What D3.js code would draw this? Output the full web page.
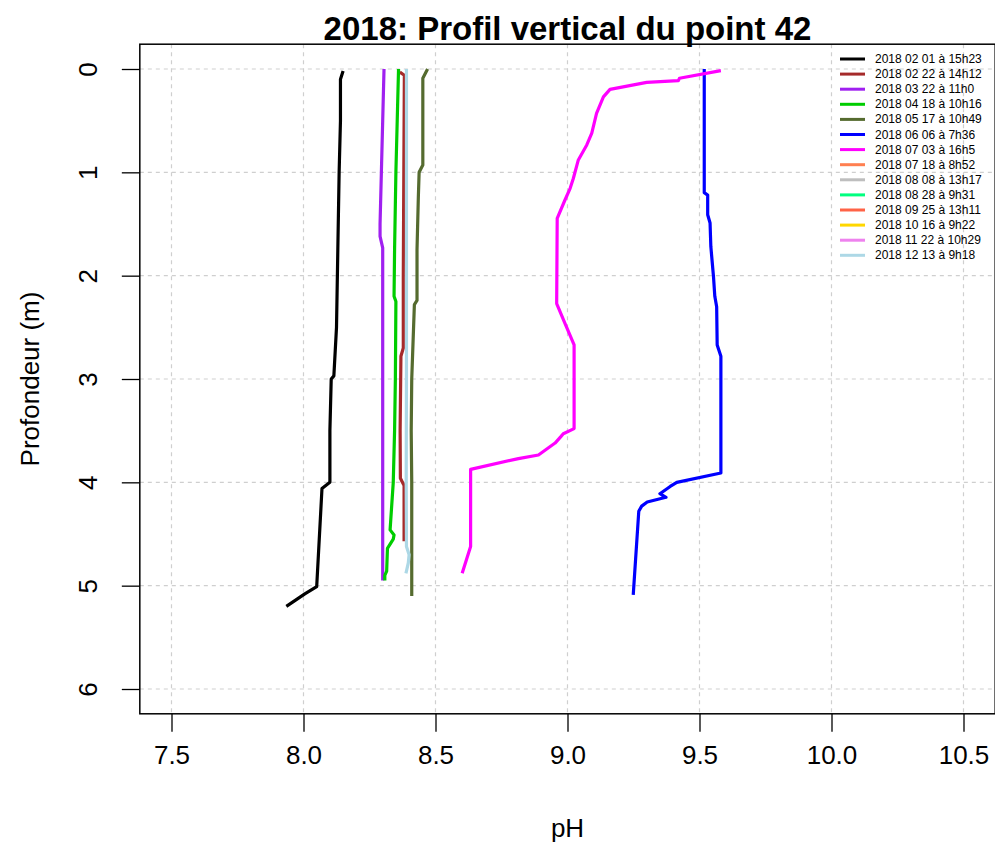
<!DOCTYPE html>
<html><head><meta charset="utf-8">
<script src="https://cdn.jsdelivr.net/npm/d3@7"></script>
<style>body{margin:0;background:#fff}svg{display:block;font-family:"Liberation Sans",Arial,sans-serif}</style>
</head><body><svg id="c" width="995" height="844"></svg>
<script>
const seriesNames = ["2018 02 01 à 15h23","2018 02 22 à 14h12","2018 03 22 à 11h0","2018 04 18 à 10h16","2018 05 17 à 10h49","2018 06 06 à 7h36","2018 07 03 à 16h5","2018 07 18 à 8h52","2018 08 08 à 13h17","2018 08 28 à 9h31","2018 09 25 à 13h11","2018 10 16 à 9h22","2018 11 22 à 10h29","2018 12 13 à 9h18"];
const seriesColors = ["#000000","#A52A2A","#A020F0","#00CD00","#556B2F","#0000FF","#FF00FF","#FF7F50","#BEBEBE","#00FF7F","#FF6347","#FFD700","#EE82EE","#ADD8E6"];
// [pH, depth]
const s0201 = [[8.15,0.02],[8.14,0.1],[8.14,0.5],[8.135,1.0],[8.13,1.75],[8.125,2.5],[8.115,2.97],[8.105,3.0],[8.10,3.5],[8.10,4.0],[8.07,4.06],[8.05,5.01],[8.005,5.08],[7.935,5.2]];
const s0222 = [[8.365,0.03],[8.382,0.06],[8.38,1.0],[8.378,2.0],[8.378,2.7],[8.369,2.78],[8.366,3.5],[8.367,3.96],[8.381,4.03],[8.381,4.57]];
const s0322 = [[8.305,0],[8.30,0.5],[8.295,1.0],[8.29,1.5],[8.29,1.62],[8.30,1.73],[8.30,2.5],[8.30,3.5],[8.30,4.5],[8.30,4.95]];
const s0418 = [[8.36,0],[8.355,0.5],[8.35,1.0],[8.345,1.75],[8.343,2.2],[8.35,2.25],[8.348,3.0],[8.345,3.5],[8.34,4.0],[8.328,4.46],[8.343,4.51],[8.34,4.55],[8.318,4.64],[8.315,4.86],[8.308,4.9],[8.308,4.95]];
const s0517 = [[8.47,0],[8.452,0.09],[8.452,0.93],[8.438,1.0],[8.435,1.24],[8.43,1.75],[8.43,2.24],[8.42,2.28],[8.41,3.0],[8.408,3.5],[8.41,4.0],[8.41,5.1]];
const s0606 = [[9.518,0],[9.518,1.197],[9.531,1.22],[9.531,1.41],[9.54,1.49],[9.543,1.72],[9.553,2.01],[9.558,2.2],[9.565,2.3],[9.567,2.67],[9.581,2.78],[9.581,3.91],[9.414,4.0],[9.389,4.04],[9.35,4.11],[9.373,4.145],[9.302,4.19],[9.281,4.23],[9.27,4.28],[9.249,5.09]];
const s0703 = [[9.581,0.016],[9.424,0.09],[9.42,0.113],[9.30,0.13],[9.161,0.197],[9.136,0.27],[9.11,0.43],[9.092,0.62],[9.073,0.735],[9.041,0.88],[9.022,1.06],[9.01,1.155],[8.99,1.27],[8.961,1.445],[8.959,2.27],[8.99,2.46],[9.025,2.67],[9.025,3.48],[8.984,3.53],[8.974,3.56],[8.953,3.62],[8.89,3.735],[8.814,3.77],[8.633,3.875],[8.633,4.62],[8.601,4.88]];
const s0718 = [], s0808 = [], s0828 = [], s0925 = [], s1016 = [], s1122 = [];
const s1213 = [[8.39,0],[8.39,1.0],[8.39,2.0],[8.39,3.0],[8.389,4.0],[8.39,4.62],[8.40,4.7],[8.397,4.78],[8.388,4.88]];
const seriesData = [s0201,s0222,s0322,s0418,s0517,s0606,s0703,s0718,s0808,s0828,s0925,s1016,s1122,s1213];
const xTicks = [7.5,8.0,8.5,9.0,9.5,10.0,10.5];
const yTicks = [0,1,2,3,4,5,6];
const titleText = "2018: Profil vertical du point 42";
const xLabel = "pH", yLabel = "Profondeur (m)";

const svg = d3.select("#c");
const x = d3.scaleLinear().domain([7.5,10.5]).range([171.5,963.5]);
const y = d3.scaleLinear().domain([0,6]).range([69,689]);
const L = x(7.38), R = x(10.62), T = y(-0.24), B = y(6.24);

// grid
const g = svg.append("g");
g.selectAll("line.vx").data(xTicks).join("line").attr("x1",d=>x(d)).attr("x2",d=>x(d)).attr("y1",T).attr("y2",B)
 .attr("stroke","#cfcfcf").attr("stroke-width",1.2).attr("stroke-dasharray","4,4");
g.selectAll("line.hy").data(yTicks).join("line").attr("y1",d=>y(d)).attr("y2",d=>y(d)).attr("x1",L).attr("x2",R)
 .attr("stroke","#cfcfcf").attr("stroke-width",1.2).attr("stroke-dasharray","4,4");

// axes
const xa = svg.append("g").attr("transform",`translate(0,${B})`).call(d3.axisBottom(x).tickValues(xTicks).tickFormat(d3.format(".1f")).tickSize(18).tickPadding(14));
xa.select(".domain").remove();
xa.selectAll("text").attr("font-size",26).attr("fill","#000").attr("font-family","Liberation Sans, Arial, sans-serif");
xa.selectAll("line").attr("stroke","#000").attr("stroke-width",1.3);
const ya = svg.append("g").attr("transform",`translate(${L},0)`).call(d3.axisLeft(y).tickValues(yTicks).tickFormat(d3.format("d")).tickSize(18).tickPadding(0));
ya.select(".domain").remove();
ya.selectAll("line").attr("stroke","#000").attr("stroke-width",1.3);
ya.selectAll("text").attr("font-size",26).attr("fill","#000").attr("font-family","Liberation Sans, Arial, sans-serif")
 .attr("text-anchor","middle").attr("dy",null).attr("x",0).attr("y",0)
 .attr("transform","translate(-52,0) rotate(-90)").attr("dominant-baseline","central");

// lines
const line = d3.line().x(d=>x(d[0])).y(d=>y(d[1]));
svg.append("defs").append("clipPath").attr("id","clip").append("rect").attr("x",L).attr("y",T).attr("width",R-L).attr("height",B-T);
svg.append("g").attr("clip-path","url(#clip)").selectAll("path").data(seriesData.map((d,i)=>({d,i})).filter(o=>o.d.length))
 .join("path").attr("d",o=>line(o.d)).attr("fill","none").attr("stroke",o=>seriesColors[o.i])
 .attr("stroke-width",3.2).attr("stroke-linejoin","round").attr("stroke-linecap","butt");

// box
svg.append("rect").attr("x",L).attr("y",T).attr("width",R-L).attr("height",B-T).attr("fill","none").attr("stroke","#000").attr("stroke-width",1.5);

// legend
const lg = svg.append("g");
seriesNames.forEach((n,i)=>{
  const yy = 59 + i*15.1;
  lg.append("line").attr("x1",840).attr("x2",865).attr("y1",yy).attr("y2",yy).attr("stroke",seriesColors[i]).attr("stroke-width",3);
  lg.append("text").attr("x",875).attr("y",yy).attr("dominant-baseline","central").attr("font-size",12).text(n);
});

// titles
svg.append("text").attr("x",x(9.0)).attr("y",40).attr("text-anchor","middle").attr("font-size",33).attr("font-weight","bold").text(titleText);
svg.append("text").attr("x",x(9.0)).attr("y",837).attr("text-anchor","middle").attr("font-size",26).text(xLabel);
svg.append("text").attr("transform",`translate(39,${y(3)}) rotate(-90)`).attr("text-anchor","middle").attr("font-size",26).text(yLabel);
</script></body></html>
